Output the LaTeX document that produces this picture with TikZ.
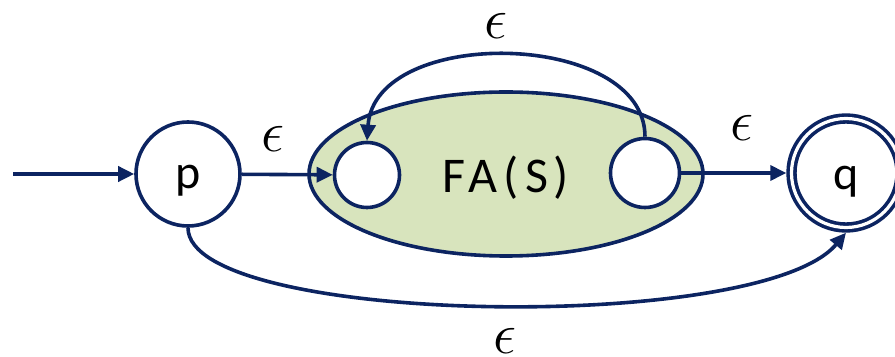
\documentclass[tikz,border=0pt]{standalone}
\usepackage{fontspec}
\usepackage{xcolor}
\setmainfont{Carlito}
\newfontfamily\faspaced[LetterSpace=12]{Carlito}
\usetikzlibrary{arrows.meta, shapes.geometric}
\definecolor{navy}{RGB}{12,36,97}
\definecolor{fagreen}{RGB}{216,228,189}

\begin{document}
\begin{tikzpicture}[x=0.5pt, y=-0.5pt,
    state/.style={circle, draw=navy, fill=white, line width=1.8pt, inner sep=0pt,
                  text height=17pt, text depth=2pt,
                  font=\fontsize{24}{24}\selectfont},
    accept/.style={state, double, double distance=1.6pt, outer sep=2.6pt,
                   text height=19pt},
    block/.style={ellipse, draw=navy, fill=fagreen, line width=1.8pt, inner sep=0pt,
                  minimum width=197pt, minimum height=82pt,
                  text height=19pt, text depth=0pt,
                  font=\faspaced\fontsize{25}{25}\selectfont},
    eps/.style={font=\fontsize{24.88}{25}\selectfont, inner sep=0pt, scale=1.17},
    arr/.style={-{Triangle[length=8pt, width=7.5pt]}, navy, line width=1.8pt},
]
\useasboundingbox (0,0) rectangle (895,357);

% States and the inner automaton
\node[state, minimum size=52pt] (p) at (188,174) {p};
\node[block] (fa) at (506,174) {FA(S)};
\node[state, minimum size=32.5pt] (in) at (367,175) {};
\node[state, minimum size=34.5pt] (out) at (645,173) {};
\node[accept, minimum size=54.5pt] (q) at (846,173) {q};
\coordinate (start) at (13,174);

% Transitions
\draw[arr] (start) -- (p);
\draw[arr] (p) -- (in);
\draw[arr] (out) -- (q);
\draw[arr] (out.north) .. controls (645,30) and (375,25) .. (in.north);
\draw[arr] (p.south) .. controls (188,325) and (760,335) .. (q.south);

% Labels
\node[eps] (e1) at (273,139) {$\epsilon$};
\node[eps] (e2) at (496,26) {$\epsilon$};
\node[eps] (e3) at (742,128) {$\epsilon$};
\node[eps] (e4) at (505,341) {$\epsilon$};

\end{tikzpicture}
\end{document}
